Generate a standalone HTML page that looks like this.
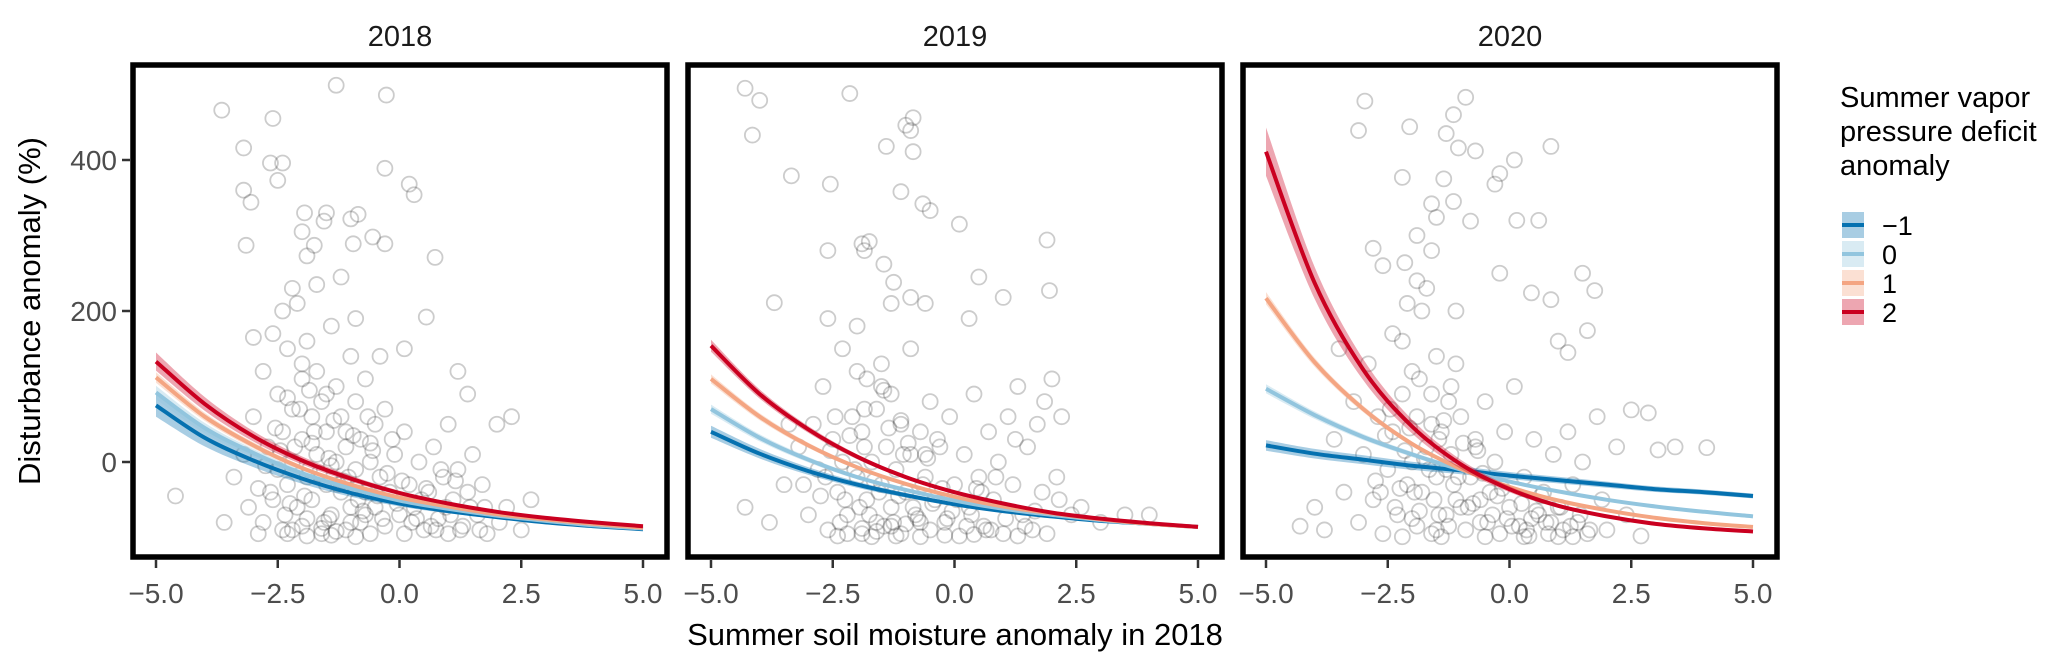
<!DOCTYPE html>
<html><head><meta charset="utf-8">
<style>
html,body{margin:0;padding:0;background:#fff;}
svg{display:block;font-family:"Liberation Sans",Arial,sans-serif;}
</style></head>
<body>
<svg id="chart" width="2067" height="669" viewBox="0 0 2067 669"></svg>
<script>
const panels = ["2018","2019","2020"];
const xTicks = [-5,-2.5,0,2.5,5];
const xTickLabels = ["\u22125.0","\u22122.5","0.0","2.5","5.0"];
const yTicks = [0,200,400];
const yTickLabels = ["0","200","400"];
const curveX = [-5,-4,-3,-2,-1,0,1,2,3,4,5];
const seriesNames = ["\u22121","0","1","2"];
const seriesColors = ["#0571b0","#92c5de","#f4a582","#ca0020"];
const fit2018 = [
 [75,32,2,-22,-41,-55,-65,-73,-80,-85,-89],
 [92,45,12,-15,-35,-51,-62,-71,-78,-84,-88],
 [112,60,22,-8,-30,-47,-59,-69,-76,-82,-87],
 [133,77,34,2,-22,-41,-55,-66,-74,-80,-85]];
const fit2019 = [
 [40,11,-12,-30,-44,-56,-65,-72,-78,-82,-86],
 [70,32,3,-20,-37,-51,-62,-70,-77,-82,-86],
 [110,60,22,-7,-29,-46,-59,-68,-76,-82,-86],
 [154,90,43,7,-20,-40,-55,-67,-75,-81,-86]];
const fit2020 = [
 [22,11,3,-5,-11,-18,-24,-30,-36,-40,-45],
 [97,62,33,10,-10,-26,-39,-50,-59,-66,-72],
 [217,132,70,24,-9,-33,-51,-64,-74,-81,-86],
 [411,237,122,47,-3,-36,-58,-72,-82,-88,-92]];
const ci2018 = [15,9,7,12];
const ci2019 = [8,6,6,8];
const ci2020 = [7,6,8,32];
const pts2018X = [-1.3,-0.27,-3.65,-2.6,-3.2,-2.65,-2.4,-2.5,-3.2,-3.05,-0.3,0.2,0.3,-1.95,-1.5,-1.55,-1.0,-0.85,-3.15,-2.0,-1.75,-1.9,-0.95,-0.55,-0.3,0.73,0.55,-3.0,-2.4,-1.7,-1.2,-2.2,-0.9,-0.4,0.1,
-3.4,-3.2,-3.1,-3.0,-2.9,-2.8,-2.8,-2.7,-2.6,-2.6,-2.5,-2.5,-2.4,-2.4,-2.3,-2.3,-2.2,-2.2,-2.1,-2.1,-2.0,-2.0,-2.0,-1.9,-1.9,-1.8,-1.8,-1.7,-1.7,-1.6,-1.6,-1.5,-1.5,-1.4,-1.4,-1.3,-1.3,-1.2,-1.2,-1.1,-1.1,-1.0,-1.0,-0.9,-0.9,-0.8,-0.8,-0.7,-0.7,-0.6,-0.6,-0.5,-0.5,-0.4,-0.3,-0.3,-0.2,-0.1,0.0,0.1,0.1,0.2,0.3,0.4,0.5,0.6,0.7,0.8,0.9,1.0,1.0,1.1,1.2,1.3,1.4,1.5,1.6,1.7,1.8,2.0,2.2,2.3,2.5,-4.6,-3.6,-2.9,-2.3,-1.9,-1.4,-0.9,1.4,1.2,2.7,
-2.75,-2.55,-2.35,-2.15,-1.95,-1.85,-1.65,-1.45,-1.35,-1.15,-0.95,-0.75,-0.55,-0.45,-0.25,-0.05,-2.65,-2.45,-2.25,-2.05,-1.85,-1.75,-1.55,-1.45,-1.25,-1.05,-0.85,-0.65,-0.35,-0.15,0.05,0.25,0.45,0.65,0.85,1.05,1.25,1.45,1.65,0.35,0.55,0.75,-2.2,-1.9,-1.6,-1.3,-1.0,-0.7,-2.0,-1.5,-1.1,-0.6,-2.3,-1.8,-1.4,-0.9,0.95,1.15,1.75,2.05];
const pts2018Y = [499,486,466,455,416,396,396,373,360,344,389,368,354,330,330,319,322,328,287,305,287,273,289,298,289,271,192,165,200,235,245,230,190,140,150,
-20,10,-60,60,-35,120,-80,20,170,-50,90,-10,40,-90,150,-30,70,0,210,-60,110,30,-85,-20,160,60,-50,10,120,-95,80,-30,40,180,-70,0,100,-40,60,-90,20,140,-60,-10,80,-80,30,-40,110,-95,0,50,-60,-20,-85,70,-40,10,-70,-95,40,-30,-60,0,-90,-40,20,-75,-20,-95,50,-50,-10,-85,-40,10,-70,-30,-95,50,-60,60,-90,-45,-80,-95,-95,-98,-97,-99,90,120,-50,
-5,45,-70,20,-45,95,-15,-75,55,-25,35,-65,15,-45,-15,-55,-40,15,-55,70,-10,40,-80,5,-30,-20,-50,60,-75,30,-25,-80,-50,-85,-10,-70,-90,-60,-90,-75,-35,-90,-90,-75,-88,-92,-80,-70,130,90,40,25,85,25,-5,-35,-60,-25,-60,-80];
const pts2019X = [-4.3,-4.0,-4.15,-2.15,-1.0,-0.85,-0.9,-3.35,-2.55,-1.4,-0.85,-1.1,-0.65,-0.5,0.1,1.9,1.95,0.5,1.0,-3.7,-1.9,-1.75,-1.85,-1.45,-1.25,-0.9,-2.6,
-4.3,-3.8,-3.5,-3.2,-3.0,-2.9,-2.8,-2.7,-2.6,-2.5,-2.4,-2.3,-2.3,-2.2,-2.1,-2.0,-2.0,-1.9,-1.9,-1.8,-1.8,-1.7,-1.6,-1.6,-1.5,-1.5,-1.4,-1.3,-1.3,-1.2,-1.1,-1.1,-1.0,-0.9,-0.9,-0.8,-0.7,-0.6,-0.5,-0.5,-0.4,-0.3,-0.2,-0.1,0.0,0.1,0.2,0.3,0.4,0.5,0.6,0.7,0.8,0.9,1.0,1.1,1.2,1.3,1.4,1.5,1.6,1.7,1.8,1.9,2.0,2.1,2.2,2.4,2.6,3.0,3.5,4.0,-2.4,-1.7,-1.2,-0.7,-0.2,0.4,1.3,-2.6,-1.3,-0.6,0.3,
-2.75,-2.55,-2.35,-2.15,-1.95,-1.85,-1.65,-1.45,-1.35,-1.15,-0.95,-0.75,-0.55,-0.45,-0.25,-0.05,-2.65,-2.45,-2.25,-2.05,-1.85,-1.75,-1.55,-1.45,-1.25,-1.05,-0.85,-0.65,-0.35,-0.15,0.05,0.25,0.45,0.65,0.85,1.05,1.25,1.45,1.65,0.35,0.55,0.75,-2.2,-1.9,-1.6,-1.3,-1.0,-0.7,-2.0,-1.5,-1.1,-0.6,1.85,2.15,-3.1,-3.4];
const pts2019Y = [495,479,433,488,446,456,439,379,368,418,411,358,342,333,315,294,227,245,218,211,289,292,280,262,238,218,280,
-60,-80,-30,20,-70,50,-10,100,-90,30,-40,150,0,-70,60,-20,180,-95,40,110,-50,0,-80,70,-30,130,20,-60,90,-10,-95,50,-40,10,150,-70,40,-20,-90,80,-50,20,-80,60,-30,-98,10,-60,90,-20,-85,40,-50,0,-95,60,-30,100,-70,20,-90,50,-40,-95,110,-20,60,-70,-60,-80,-70,-70,-98,-99,-98,-99,-97,-96,-98,190,210,210,190,
-45,15,-80,35,-60,70,-25,-85,45,-45,25,-75,5,-55,-35,-65,-20,60,-50,-10,20,-70,-40,95,-80,10,-60,-30,30,-75,-50,-85,-35,-90,-20,-75,30,-85,-65,-70,-40,-90,-95,-88,-92,-85,-82,-80,120,100,55,10,80,-50,-30,50];
const pts2020X = [-2.97,-0.9,-3.1,-2.05,-1.15,-1.3,-1.05,-0.7,-0.2,0.1,0.85,-2.2,-1.35,-1.6,-1.5,-1.15,-0.8,-0.3,0.15,0.6,-2.8,-2.15,-1.6,-0.2,0.45,0.85,1.5,1.75,1.6,1.0,1.2,2.5,2.85,3.05,4.05,
-4.0,-3.8,-3.6,-3.4,-3.2,-3.1,-3.0,-2.9,-2.8,-2.7,-2.6,-2.5,-2.4,-2.4,-2.3,-2.2,-2.1,-2.0,-2.0,-1.9,-1.9,-1.8,-1.8,-1.7,-1.6,-1.6,-1.5,-1.5,-1.4,-1.3,-1.2,-1.2,-1.1,-1.0,-0.9,-0.8,-0.7,-0.6,-0.5,-0.4,-0.3,-0.2,-0.1,0.0,0.1,0.2,0.3,0.4,0.5,0.6,0.7,0.8,0.9,1.0,1.1,1.2,1.3,1.4,1.5,1.6,1.8,1.9,2.0,2.2,2.4,2.7,3.4,-2.2,-1.4,-0.5,0.3,1.0,1.3,-4.3,-3.5,-2.6,-1.1,
-2.75,-2.55,-2.35,-2.15,-1.95,-1.85,-1.65,-1.45,-1.35,-1.15,-0.95,-0.75,-0.55,-0.45,-0.25,-0.05,-2.65,-2.45,-2.25,-2.05,-1.85,-1.75,-1.55,-1.45,-1.25,-1.05,-0.85,-0.65,-0.35,-0.15,0.05,0.25,0.45,0.65,0.85,1.05,1.25,1.45,1.65,0.35,0.55,0.75,-2.2,-1.9,-1.6,-1.3,-1.0,-0.7,-2.0,-1.5,-1.1,-0.6,-1.7,-1.9,-2.1,-1.25];
const pts2020Y = [478,483,439,444,460,435,416,412,382,400,418,377,375,342,324,345,319,368,320,320,283,264,280,250,224,215,250,227,174,160,145,69,65,16,19,
-60,-90,30,-40,80,-80,10,130,-50,60,-95,-10,170,40,-70,90,-30,120,0,-85,60,-40,200,20,-95,90,-20,140,40,-70,10,100,-50,60,-90,-20,30,-80,80,-40,0,-95,40,-60,100,-85,-20,-98,30,-70,-40,-95,10,-60,-90,40,-30,-80,0,-95,60,-50,-90,20,-70,-98,20,-99,-99,-99,-99,-99,-99,-85,150,260,200,
-25,35,-60,15,-40,110,-10,-70,55,-30,25,-55,-15,-80,-45,-75,-40,70,-35,45,-65,5,-50,30,-85,-20,-60,15,-70,-35,-85,-55,-75,-45,-80,-60,-85,-70,-90,-90,-65,-80,160,240,50,-10,-60,20,-75,-90,130,-50,230,300,210,80];

const NS="http://www.w3.org/2000/svg";
const svg=document.getElementById('chart');
function mk(tag,attrs,parent){const e=document.createElementNS(NS,tag);for(const k in attrs)e.setAttribute(k,attrs[k]);(parent||svg).appendChild(e);return e;}
const PANEL_L=133, PANEL_STEP=555, PANEL_W=534, PANEL_T=65, PANEL_H=492;
function xScale(p,v){return 156+PANEL_STEP*p+48.7*(v+5);}
function yScale(v){return 462-0.755*v;}
function smooth(pts){let d="M"+pts[0][0].toFixed(1)+","+pts[0][1].toFixed(1);
 for(let i=0;i<pts.length-1;i++){const p0=pts[Math.max(0,i-1)],p1=pts[i],p2=pts[i+1],p3=pts[Math.min(pts.length-1,i+2)];
  const c1=[p1[0]+(p2[0]-p0[0])/6,p1[1]+(p2[1]-p0[1])/6],c2=[p2[0]-(p3[0]-p1[0])/6,p2[1]-(p3[1]-p1[1])/6];
  d+="C"+c1[0].toFixed(1)+","+c1[1].toFixed(1)+" "+c2[0].toFixed(1)+","+c2[1].toFixed(1)+" "+p2[0].toFixed(1)+","+p2[1].toFixed(1);}
 return d;}
const fits=[fit2018,fit2019,fit2020], cis=[ci2018,ci2019,ci2020];
const ptsX=[pts2018X,pts2019X,pts2020X], ptsY=[pts2018Y,pts2019Y,pts2020Y];

panels.forEach((name,p)=>{
 const g=mk('g',{});
 
 
 const left=PANEL_L+PANEL_STEP*p;
 const clipId='clip'+p;
 const cp=mk('clipPath',{id:clipId},g); mk('rect',{x:left,y:PANEL_T,width:PANEL_W,height:PANEL_H},cp);
 const strip=mk('text',{x:left+PANEL_W/2,y:46,'text-anchor':'middle','font-size':29,fill:'#1a1a1a'},g);
 strip.textContent=name;
 
 
 const pg=mk('g',{'clip-path':'url(#'+clipId+')'},g);
 
 
 ptsX[p].forEach((xv,i)=>{const c=mk('circle',{cx:xScale(p,xv),cy:yScale(ptsY[p][i]),r:7.5,fill:'none',stroke:'#000','stroke-opacity':0.2,'stroke-width':1.8},pg);
  
  });
 const fg=mk('g',{'clip-path':'url(#'+clipId+')'},g);
 fits[p].forEach((vals,s)=>{
  const ci0=cis[p][s], base=vals[0]+100;
  const up=curveX.map((xv,i)=>[xScale(p,xv),yScale(vals[i]+ci0*(vals[i]+100)/base)]);
  const lo=curveX.map((xv,i)=>[xScale(p,xv),yScale(vals[i]-ci0*(vals[i]+100)/base)]).reverse();
  const ribD=smooth(up)+"L"+smooth(lo).slice(1)+"Z";
  const rib=mk('path',{d:ribD,fill:seriesColors[s],'fill-opacity':0.35,stroke:'none'},fg);
  
  
  const line=mk('path',{d:smooth(curveX.map((xv,i)=>[xScale(p,xv),yScale(vals[i])])),fill:'none',stroke:seriesColors[s],'stroke-width':4},fg);
  
  
 });
 const fr=mk('rect',{x:left,y:PANEL_T,width:PANEL_W,height:PANEL_H,fill:'none',stroke:'#000','stroke-width':5.5},g);
 
 
 xTicks.forEach((t,i)=>{const x=xScale(p,t);
  const tk=mk('line',{x1:x,x2:x,y1:560,y2:568,stroke:'#333','stroke-width':2.5},g);
  
  
  const tl=mk('text',{x:x,y:603,'text-anchor':'middle','font-size':28,fill:'#4d4d4d'},g);
  tl.textContent=xTickLabels[i];
  
  });
});
yTicks.forEach((t,i)=>{const y=yScale(t);
 const tk=mk('line',{x1:122,x2:130,y1:y,y2:y,stroke:'#333','stroke-width':2.5});
 
 
 const tl=mk('text',{x:117,y:y+10,'text-anchor':'end','font-size':28,fill:'#4d4d4d'});
 tl.textContent=yTickLabels[i];
 
 });
const yt=mk('text',{x:0,y:0,transform:'translate(40,311) rotate(-90)','text-anchor':'middle','font-size':31,fill:'#000'});
yt.textContent='Disturbance anomaly (%)';


const xt=mk('text',{x:955,y:645,'text-anchor':'middle','font-size':31,fill:'#000'});
xt.textContent='Summer soil moisture anomaly in 2018';


const lg=mk('g',{});


["Summer vapor","pressure deficit","anomaly"].forEach((t,i)=>{const tx=mk('text',{x:1840,y:107+i*34,'font-size':29,fill:'#000'},lg);tx.textContent=t;
 
 });
seriesNames.forEach((n,s)=>{const cy=225+s*29;
 const e=mk('g',{},lg);
 
 
 mk('rect',{x:1842,y:cy-13,width:22,height:26,fill:seriesColors[s],'fill-opacity':0.35},e);
 mk('line',{x1:1842,x2:1864,y1:cy,y2:cy,stroke:seriesColors[s],'stroke-width':4},e);
 const t=mk('text',{x:1882,y:cy+10,'font-size':27,fill:'#000'},e);t.textContent=n;});
</script>
</body></html>
